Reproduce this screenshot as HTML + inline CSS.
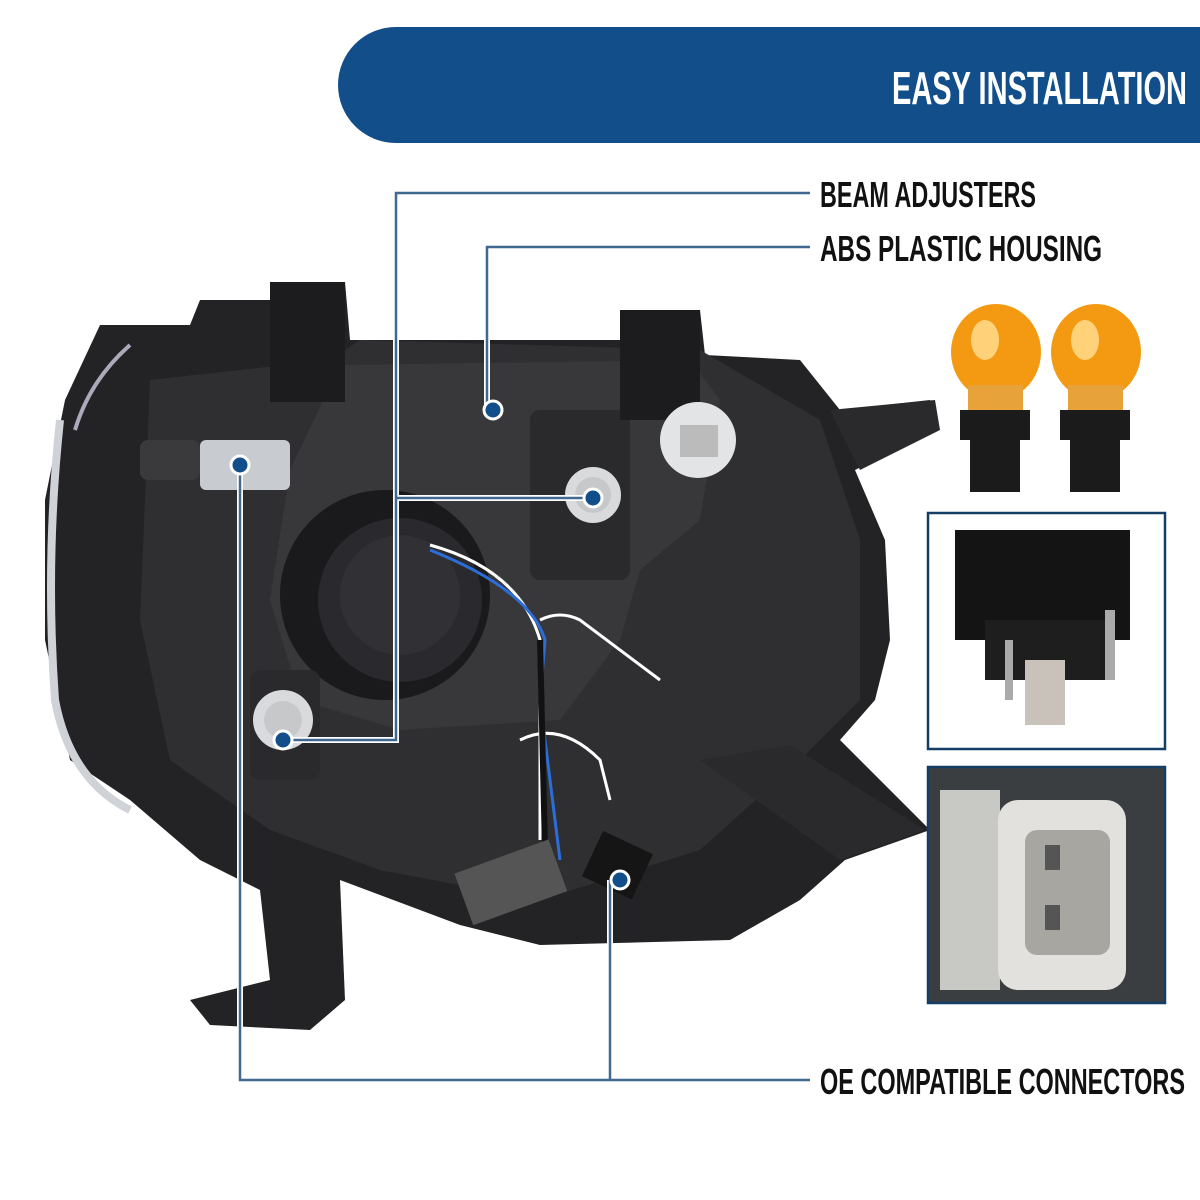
<!DOCTYPE html>
<html><head><style>
html,body{margin:0;padding:0;background:#fff;}
svg{display:block}
text{font-family:"Liberation Sans",sans-serif;font-weight:bold;}
</style></head><body>
<svg width="1200" height="1200" viewBox="0 0 1200 1200" xmlns="http://www.w3.org/2000/svg">
<rect width="1200" height="1200" fill="#fff"/>
<!-- banner -->
<path d="M396 27 H1200 V143 H396 A58 58 0 0 1 396 27 Z" fill="#124e8a"/>
<text x="1187" y="104" fill="#fff" font-size="46" text-anchor="end" textLength="295" lengthAdjust="spacingAndGlyphs">EASY INSTALLATION</text>

<!-- headlight body -->
<path d="M100 325 L190 325 L200 300 L270 300 L280 282 L345 282 L350 340 L620 340 L628 310 L700 310 L705 355 L800 360 L840 410 L930 400 L935 430 L855 470 L885 540 L890 640 L875 700 L840 740 L930 830 L845 860 L800 900 L730 940 L540 945 L460 925 L340 880 L345 1000 L310 1030 L210 1025 L190 1000 L270 980 L260 890 L200 860 L130 800 L70 760 L45 640 L45 500 L65 400 Z" fill="#232325"/>
<path d="M60 420 Q45 560 55 700 Q70 780 130 810" stroke="#cfd3d8" stroke-width="8" fill="none"/>
<path d="M130 345 Q90 380 75 430" stroke="#aab" stroke-width="4" fill="none"/>
<path d="M150 380 L330 360 L360 340 L700 350 L820 420 L860 540 L860 700 L800 760 L700 850 L540 900 L380 870 L270 830 L170 760 L140 620 Z" fill="#2f2f32"/>
<path d="M340 365 L690 360 L720 400 L700 520 L640 570 L620 640 L560 720 L400 730 L300 700 L270 600 L290 470 Z" fill="#38383b"/>
<circle cx="385" cy="595" r="105" fill="#1a1a1c"/>
<circle cx="400" cy="600" r="82" fill="#2a2a2e"/>
<circle cx="400" cy="595" r="60" fill="#303035"/>
<rect x="530" y="410" width="100" height="170" rx="10" fill="#2a2a2c"/>
<rect x="250" y="670" width="70" height="110" rx="10" fill="#2a2a2c"/>
<rect x="270" y="282" width="75" height="120" fill="#1c1c1e"/>
<rect x="620" y="310" width="80" height="110" fill="#1c1c1e"/>
<path d="M830 410 L935 400 L940 430 L860 470 Z" fill="#2a2a2c"/>
<path d="M700 760 L790 745 L925 830 L840 860 Z" fill="#2a2a2c"/>
<circle cx="593" cy="495" r="28" fill="#d8dadc"/><circle cx="593" cy="495" r="18" fill="#c6c8ca"/>
<circle cx="283" cy="720" r="30" fill="#d8dadc"/><circle cx="283" cy="720" r="19" fill="#c6c8ca"/>
<circle cx="698" cy="440" r="38" fill="#e2e4e6"/><rect x="680" y="425" width="38" height="32" fill="#bbb"/>
<rect x="200" y="440" width="90" height="50" rx="6" fill="#c8ccd0"/>
<rect x="140" y="440" width="60" height="40" rx="8" fill="#3a3a3c"/>
<path d="M430 545 Q520 570 540 640 L540 840 M540 620 Q560 610 580 620 L660 680 M520 740 Q560 720 600 760 L610 800" stroke="#fff" stroke-width="3" fill="none"/>
<path d="M430 550 Q530 590 545 640 L540 700 L560 860" stroke="#2c6dd8" stroke-width="3" fill="none"/>
<path d="M540 640 L545 850" stroke="#111" stroke-width="6" fill="none"/>
<rect x="460" y="855" width="100" height="55" fill="#555" transform="rotate(-20 510 880)"/>
<rect x="590" y="840" width="55" height="50" fill="#151515" transform="rotate(25 617 865)"/>

<!-- bulbs -->
<g>
<ellipse cx="996" cy="352" rx="45" ry="48" fill="#f39a12"/><ellipse cx="985" cy="340" rx="14" ry="20" fill="#ffd27a"/>
<rect x="968" y="385" width="55" height="30" fill="#e8a23a"/>
<rect x="960" y="410" width="70" height="30" fill="#1b1b1b"/><rect x="970" y="440" width="50" height="52" fill="#1b1b1b"/>
<ellipse cx="1096" cy="352" rx="45" ry="48" fill="#f39a12"/><ellipse cx="1085" cy="340" rx="14" ry="20" fill="#ffd27a"/>
<rect x="1068" y="385" width="55" height="30" fill="#e8a23a"/>
<rect x="1060" y="410" width="70" height="30" fill="#1b1b1b"/><rect x="1070" y="440" width="50" height="52" fill="#1b1b1b"/>
</g>
<!-- relay box -->
<rect x="928" y="513" width="237" height="236" fill="#fff" stroke="#153e66" stroke-width="2.5"/>
<rect x="955" y="530" width="175" height="110" fill="#141414"/>
<rect x="985" y="620" width="120" height="60" fill="#1e1e1e"/>
<rect x="1025" y="660" width="40" height="65" fill="#c9c2bb"/>
<rect x="1005" y="640" width="8" height="60" fill="#aaa"/><rect x="1105" y="610" width="10" height="70" fill="#aaa"/>
<!-- connector box -->
<rect x="928" y="767" width="237" height="236" fill="#3a3e40" stroke="#153e66" stroke-width="2.5"/>
<rect x="940" y="790" width="60" height="200" fill="#c8c8c4"/>
<rect x="998" y="800" width="128" height="190" rx="20" fill="#e2e1dd"/>
<rect x="1025" y="830" width="85" height="125" rx="12" fill="#a8a6a1"/>
<rect x="1045" y="845" width="15" height="25" fill="#555"/><rect x="1045" y="905" width="15" height="25" fill="#555"/>

<!-- leader lines -->
<g fill="none" stroke="#fff" stroke-width="6">
<path d="M810 193 H396 V740 H283 M396 498 H593"/>
<path d="M810 247 H487 V410 H493"/>
<path d="M240 465 V1080 H810 M610 880 V1080"/>
</g>
<g fill="none" stroke="#41698f" stroke-width="2.5">
<path d="M810 193 H396 V740 H283 M396 498 H593"/>
<path d="M810 247 H487 V410 H493"/>
<path d="M240 465 V1080 H810 M610 880 V1080"/>
</g>
<g fill="#124e8a" stroke="#fff" stroke-width="3">
<circle cx="493" cy="410" r="9"/><circle cx="593" cy="498" r="9"/><circle cx="283" cy="740" r="9"/>
<circle cx="240" cy="465" r="9"/><circle cx="620" cy="880" r="9"/>
</g>
<text x="820" y="207" font-size="36" fill="#111" textLength="216" lengthAdjust="spacingAndGlyphs">BEAM ADJUSTERS</text>
<text x="820" y="261" font-size="36" fill="#111" textLength="282" lengthAdjust="spacingAndGlyphs">ABS PLASTIC HOUSING</text>
<text x="820" y="1094" font-size="36" fill="#111" textLength="365" lengthAdjust="spacingAndGlyphs">OE COMPATIBLE CONNECTORS</text>
</svg>
</body></html>
